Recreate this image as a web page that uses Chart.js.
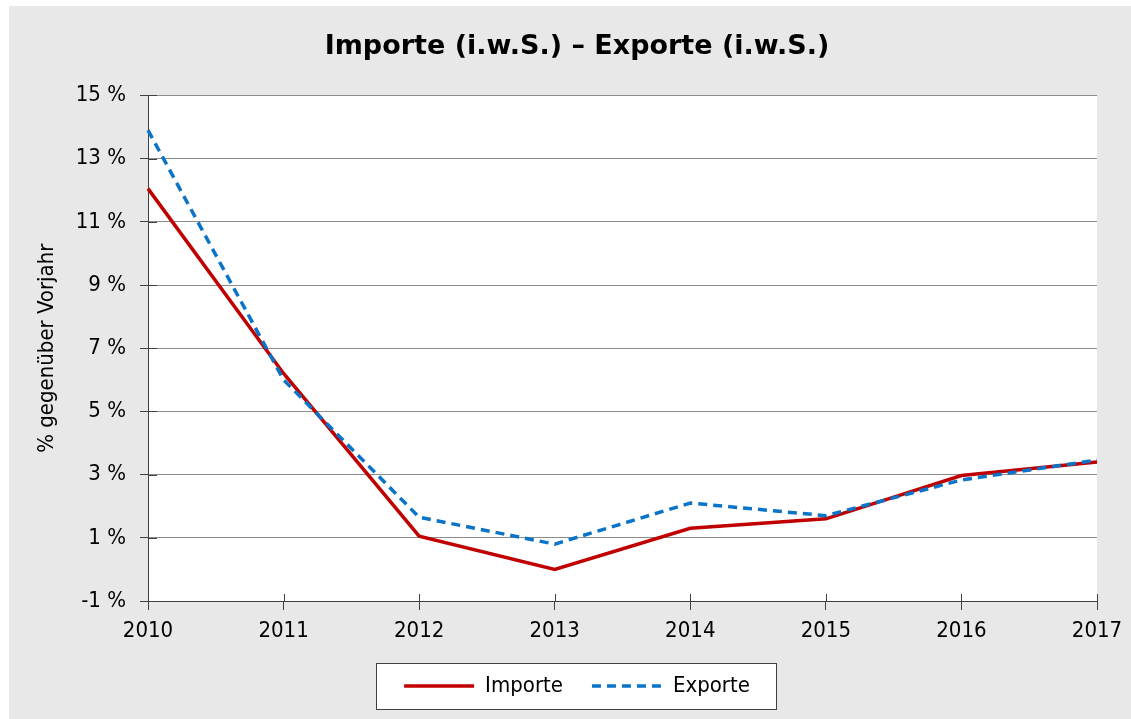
<!DOCTYPE html>
<html>
<head>
<meta charset="utf-8">
<title>Importe (i.w.S.) – Exporte (i.w.S.)</title>
<script src="https://cdn.jsdelivr.net/npm/chart.js@4/dist/chart.umd.min.js"></script>
<style>
  html, body { margin: 0; padding: 0; background: #fff; }
  #wrap { width: 1131px; height: 719px; position: relative; }
</style>
</head>
<body>
<div id="wrap"><canvas id="chart"></canvas></div>
<script>
// Data
const years = ['2010', '2011', '2012', '2013', '2014', '2015', '2016', '2017'];
const importe = [12.05, 6.2, 1.05, 0.0, 1.3, 1.6, 2.97, 3.4];
const exporte = [13.9, 6.0, 1.65, 0.8, 2.1, 1.7, 2.83, 3.46];
const yMin = -1;
const yMax = 15;
const yStep = 2;

const FONT = "'DejaVu Sans Condensed', 'DejaVu Sans', sans-serif";
Chart.defaults.font.family = FONT;
Chart.defaults.color = '#000';

// Grey background, white plot area and the framed legend box
const framePlugin = {
  id: 'frame',
  beforeDraw(chart) {
    const { ctx, chartArea, legend } = chart;
    ctx.save();
    ctx.fillStyle = '#e8e8e8';
    ctx.fillRect(9, 6, chart.width - 9, chart.height - 6);
    ctx.fillStyle = '#fff';
    ctx.fillRect(chartArea.left, chartArea.top, chartArea.right - chartArea.left, chartArea.bottom - chartArea.top);

    const boxes = legend && legend.legendHitBoxes;
    if (boxes && boxes.length) {
      const first = boxes[0];
      const last = boxes[boxes.length - 1];
      const x0 = Math.round(first.left - 28);
      const x1 = Math.round(last.left + last.width + 26);
      const y0 = Math.round(first.top - 12);
      const y1 = Math.round(first.top + first.height + 12);
      ctx.fillRect(x0, y0, x1 - x0, y1 - y0);
      ctx.strokeStyle = '#404040';
      ctx.lineWidth = 1;
      ctx.strokeRect(x0 + 0.5, y0 + 0.5, x1 - x0, y1 - y0);
    }
    ctx.restore();
  }
};

// Excel-style "cross" tick marks: the part inside the plot area
const crossTicks = {
  id: 'crossTicks',
  beforeDatasetsDraw(chart) {
    const { ctx, chartArea, scales: { x, y } } = chart;
    ctx.save();
    ctx.strokeStyle = '#404040';
    ctx.lineWidth = 1;
    ctx.beginPath();
    y.ticks.forEach((t, i) => {
      const py = Math.round(y.getPixelForTick(i)) + 0.5;
      ctx.moveTo(chartArea.left, py);
      ctx.lineTo(chartArea.left + 9, py);
    });
    x.ticks.forEach((t, i) => {
      const px = Math.round(x.getPixelForTick(i)) + 0.5;
      ctx.moveTo(px, chartArea.bottom);
      ctx.lineTo(px, chartArea.bottom - 7);
    });
    ctx.stroke();
    ctx.restore();
  }
};

const data = {
  labels: years,
  datasets: [
    {
      label: 'Importe',
      data: importe,
      borderColor: '#c00000',
      backgroundColor: '#c00000',
      borderWidth: 3.5,
      pointRadius: 0,
      tension: 0,
      order: 1
    },
    {
      label: 'Exporte',
      data: exporte,
      borderColor: '#0a74c8',
      backgroundColor: '#0a74c8',
      borderWidth: 3.5,
      borderDash: [9, 6],
      pointRadius: 0,
      tension: 0,
      order: 0
    }
  ]
};

// legend lines take the dash and width of the dataset line, not of its points
function legendLabels(chart) {
  const items = Chart.defaults.plugins.legend.labels.generateLabels(chart);
  items.forEach(item => {
    const ds = chart.data.datasets[item.datasetIndex];
    item.lineDash = ds.borderDash || [];
    item.lineWidth = ds.borderWidth;
    item.strokeStyle = ds.borderColor;
  });
  return items;
}

new Chart(document.getElementById('chart'), {
  type: 'line',
  data,
  options: {
    responsive: true,
    maintainAspectRatio: false,
    animation: false,
    layout: {
      padding: { left: 32, right: 9, top: 6, bottom: 12 }
    },
    plugins: {
      title: {
        display: true,
        text: 'Importe (i.w.S.) – Exporte (i.w.S.)',
        color: '#000',
        font: { family: "'DejaVu Sans', sans-serif", size: 27, weight: 'bold', lineHeight: 1.2 },
        padding: { top: 25, bottom: 32 }
      },
      legend: {
        display: true,
        position: 'bottom',
        labels: {
          usePointStyle: true,
          pointStyle: 'line',
          pointStyleWidth: 70,
          padding: 29,
          color: '#000',
          font: { size: 22 },
          generateLabels: legendLabels,
          sort: (a, b) => a.datasetIndex - b.datasetIndex
        }
      },
      tooltip: { enabled: false }
    },
    scales: {
      x: {
        type: 'category',
        offset: false,
        grid: {
          display: true,
          drawOnChartArea: false,
          drawTicks: true,
          tickLength: 9,
          tickColor: '#404040'
        },
        border: { display: true, color: '#404040', width: 1 },
        ticks: {
          color: '#000',
          font: { size: 22 },
          padding: 8,
          maxRotation: 0,
          autoSkip: false
        },
        afterFit(scale) {
          scale.height = 45;
          scale.paddingRight = 34;
        }
      },
      y: {
        min: yMin,
        max: yMax,
        grid: {
          display: true,
          color: '#8c8c8c',
          lineWidth: 1,
          drawTicks: true,
          tickLength: 8,
          tickColor: '#404040'
        },
        border: { display: true, color: '#404040', width: 1 },
        ticks: {
          stepSize: yStep,
          color: '#000',
          font: { size: 22 },
          padding: 14,
          callback: (v) => v + ' %'
        },
        title: {
          display: true,
          text: '% gegenüber Vorjahr',
          color: '#000',
          font: { size: 22 },
          padding: { top: 2, bottom: 0 }
        },
        afterFit(scale) {
          scale.width = 116;
        }
      }
    }
  },
  plugins: [framePlugin, crossTicks]
});
</script>
</body>
</html>
